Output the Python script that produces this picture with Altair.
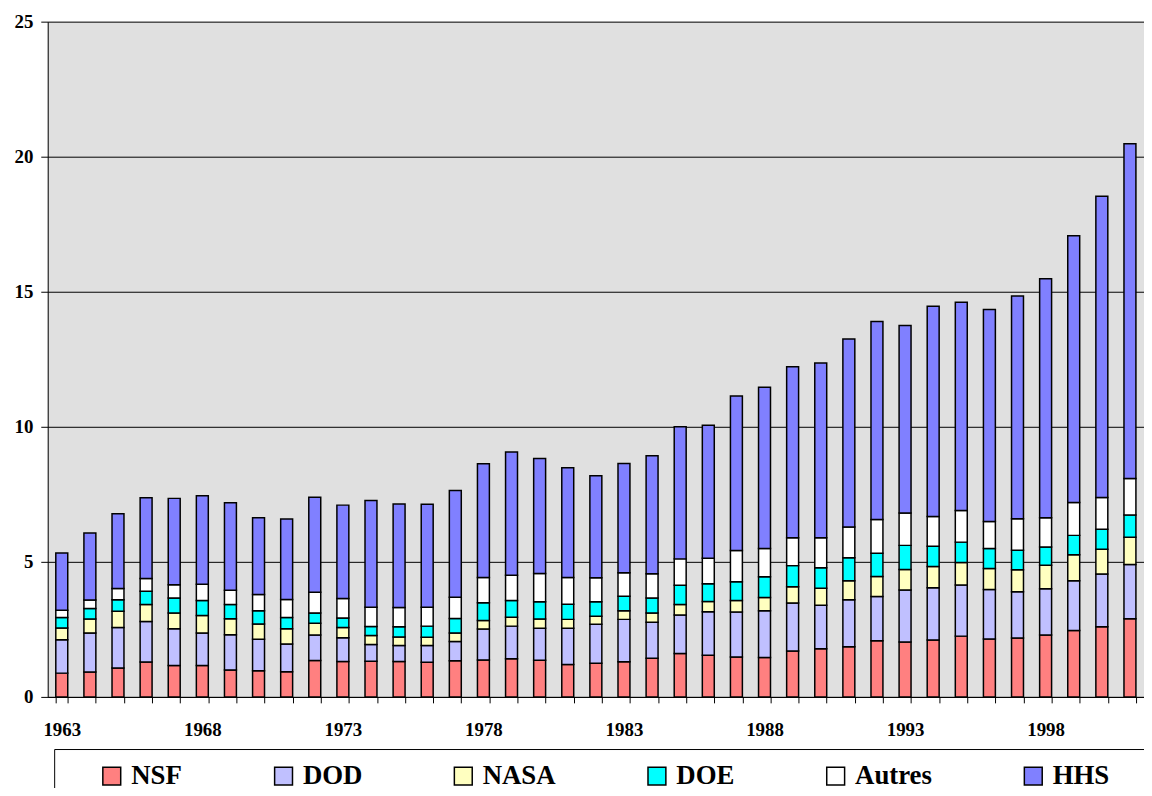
import altair as alt
import pandas as pd

years = list(range(1963, 2002))
series = ["NSF", "DOD", "NASA", "DOE", "Autres", "HHS"]
colors = ["#FF8080", "#C0C0FF", "#FFFFC0", "#00FFFF", "#FFFFFF", "#8080FF"]

nsf = [0.88, 0.92, 1.07, 1.29, 1.16, 1.16, 1.00, 0.97, 0.93, 1.35,
       1.31, 1.32, 1.31, 1.28, 1.34, 1.37, 1.41, 1.36, 1.20, 1.25,
       1.30, 1.43, 1.61, 1.54, 1.48, 1.46, 1.70, 1.78, 1.86, 2.08,
       2.03, 2.11, 2.25, 2.14, 2.18, 2.29, 2.46, 2.60, 2.89]
dod = [1.24, 1.45, 1.50, 1.50, 1.36, 1.21, 1.30, 1.16, 1.03, 0.94,
       0.88, 0.62, 0.59, 0.62, 0.71, 1.14, 1.21, 1.18, 1.34, 1.44,
       1.57, 1.33, 1.42, 1.61, 1.66, 1.73, 1.78, 1.61, 1.74, 1.64,
       1.93, 1.93, 1.89, 1.84, 1.71, 1.71, 1.84, 1.95, 2.01]
nasa = [0.43, 0.51, 0.60, 0.63, 0.59, 0.64, 0.59, 0.57, 0.56, 0.44,
        0.38, 0.33, 0.32, 0.31, 0.32, 0.32, 0.33, 0.34, 0.33, 0.30,
        0.32, 0.35, 0.39, 0.38, 0.43, 0.49, 0.60, 0.63, 0.70, 0.74,
        0.76, 0.79, 0.84, 0.77, 0.82, 0.87, 0.96, 0.92, 1.01]
doe = [0.39, 0.39, 0.43, 0.49, 0.55, 0.56, 0.53, 0.49, 0.42, 0.38,
       0.35, 0.34, 0.38, 0.41, 0.53, 0.66, 0.62, 0.64, 0.56, 0.53,
       0.54, 0.55, 0.71, 0.66, 0.69, 0.77, 0.78, 0.76, 0.85, 0.86,
       0.89, 0.75, 0.75, 0.74, 0.72, 0.68, 0.72, 0.74, 0.82]
autres = [0.27, 0.32, 0.41, 0.47, 0.49, 0.60, 0.53, 0.60, 0.67, 0.76,
          0.72, 0.71, 0.71, 0.70, 0.79, 0.93, 0.93, 1.05, 0.99, 0.89,
          0.87, 0.90, 0.98, 0.94, 1.16, 1.04, 1.03, 1.11, 1.14, 1.25,
          1.20, 1.10, 1.17, 1.00, 1.17, 1.08, 1.22, 1.17, 1.36]
hhs = [2.12, 2.48, 2.77, 2.99, 3.20, 3.28, 3.24, 2.84, 2.98, 3.52,
       3.46, 3.95, 3.83, 3.81, 3.95, 4.21, 4.57, 4.26, 4.06, 3.78,
       4.04, 4.37, 4.89, 4.93, 5.72, 5.97, 6.33, 6.47, 6.96, 7.33,
       6.94, 7.78, 7.71, 7.85, 8.24, 8.85, 9.87, 11.16, 12.39]

y_ticks = [0, 5, 10, 15, 20, 25]

values = {"NSF": nsf, "DOD": dod, "NASA": nasa, "DOE": doe, "Autres": autres, "HHS": hhs}
rows = []
for i, name in enumerate(series):
    for yr, v in zip(years, values[name]):
        rows.append({"year": yr, "agency": name, "value": v, "idx": i})
df = pd.DataFrame(rows)

FONT = "Liberation Serif, Times New Roman, Times, DejaVu Serif, Noto Serif, serif"

frame = alt.Chart(pd.DataFrame({"k": [0]})).mark_rect(
    fill="white", stroke="black", strokeWidth=1
).encode(
    x=alt.value(7), x2=alt.value(1300), y=alt.value(733), y2=alt.value(900)
)

bars = alt.Chart(df).mark_bar(stroke="black", strokeWidth=1.5, opacity=1).encode(
    x=alt.X(
        "year:O",
        scale=alt.Scale(paddingInner=0.575, paddingOuter=0.2875),
        axis=alt.Axis(
            title=None, labelAngle=0, grid=False,
            labelExpr="(toNumber(datum.value) - 1963) % 5 == 0 ? datum.label : ''",
            tickBand="extent", tickSize=6, tickColor="black", domainColor="black",
            labelFont=FONT, labelFontSize=19, labelFontWeight="bold", labelColor="black",
            labelPadding=18, labelOverlap=False,
        ),
    ),
    y=alt.Y(
        "value:Q", stack="zero",
        scale=alt.Scale(domain=[0, 25], nice=False),
        axis=alt.Axis(
            title=None, values=y_ticks, grid=True, gridColor="black", gridWidth=1,
            tickSize=7, tickColor="black", domainColor="black",
            labelFont=FONT, labelFontSize=19, labelFontWeight="bold", labelColor="black",
            labelPadding=8,
        ),
    ),
    color=alt.Color(
        "agency:N",
        scale=alt.Scale(domain=series, range=colors),
        legend=alt.Legend(
            title=None, orient="none", legendX=51, legendY=746,
            direction="horizontal", columns=6, columnPadding=88,
            symbolType="square", symbolSize=324, symbolStrokeColor="black",
            symbolStrokeWidth=1.5, symbolOpacity=1,
            labelFont=FONT, labelFontSize=27, labelFontWeight="bold", labelColor="black",
            labelOffset=6, padding=0,
        ),
    ),
    order=alt.Order("idx:Q", sort="ascending"),
)

chart = alt.layer(frame, bars).properties(
    width=1104, height=680,
    autosize=alt.AutoSizeParams(type="none"),
    padding={"left": 40, "top": 11, "right": 0, "bottom": 89},
).configure(
    background="white"
).configure_view(
    fill="#E0E0E0", stroke=None
)

chart.save("out.html", embed_options={"renderer": "svg", "actions": False})
